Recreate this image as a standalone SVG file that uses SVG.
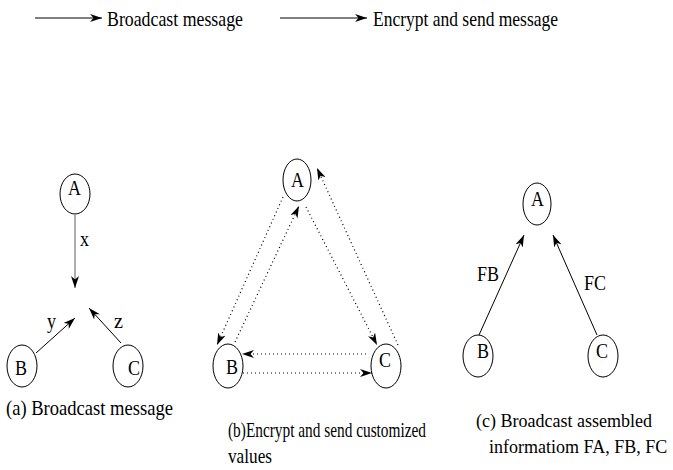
<svg xmlns="http://www.w3.org/2000/svg" width="673" height="470" viewBox="0 0 673 470">
<style>
text{font-family:"Liberation Serif","Times New Roman",serif;font-size:21px;fill:#000}
.s{font-size:18px}
.n{fill:none;stroke:#000;stroke-width:1}
.e{fill:none;stroke:#000;stroke-width:1}
.d{fill:none;stroke:#000;stroke-width:1.2;stroke-dasharray:1 3}
.g{fill:none;stroke:#777;stroke-width:1.2}
</style>
<defs>
<marker id="ah" viewBox="0 0 12 8" refX="12" refY="4" markerWidth="12" markerHeight="8" markerUnits="userSpaceOnUse" orient="auto">
<path d="M0,0 L12,4 L0,8 L3.5,4 z" fill="#000"/>
</marker>
</defs>
<rect width="673" height="470" fill="#fff"/>
<g id="legend">
<line class="e" x1="35" y1="18" x2="102" y2="18" marker-end="url(#ah)"/>
<text x="107" y="26" textLength="136" lengthAdjust="spacingAndGlyphs">Broadcast message</text>
<line class="e" x1="280" y1="18" x2="367" y2="18" marker-end="url(#ah)"/>
<text x="373" y="26" textLength="185" lengthAdjust="spacingAndGlyphs">Encrypt and send message</text>
</g>
<g id="connectors">
<line class="g" x1="75" y1="215" x2="75" y2="288" marker-end="url(#ah)"/>
<line class="e" x1="36" y1="353" x2="75" y2="318" marker-end="url(#ah)"/>
<line class="e" x1="121" y1="343" x2="89" y2="308" marker-end="url(#ah)"/>
<line class="d" x1="283" y1="197" x2="217" y2="345" marker-end="url(#ah)"/>
<line class="d" x1="235" y1="342" x2="299" y2="206" marker-end="url(#ah)"/>
<line class="d" x1="306" y1="207" x2="377" y2="345" marker-end="url(#ah)"/>
<line class="d" x1="398" y1="345" x2="317" y2="168" marker-end="url(#ah)"/>
<line class="d" x1="366" y1="354" x2="242" y2="354" marker-end="url(#ah)"/>
<line class="d" x1="243" y1="373" x2="372" y2="373" marker-end="url(#ah)"/>
<line class="e" x1="479" y1="335" x2="524" y2="235" marker-end="url(#ah)"/>
<line class="e" x1="597" y1="335" x2="553" y2="235" marker-end="url(#ah)"/>
<text x="80" y="246" textLength="9" lengthAdjust="spacingAndGlyphs">x</text>
<text x="47" y="328" textLength="9" lengthAdjust="spacingAndGlyphs">y</text>
<text x="114" y="328" textLength="9" lengthAdjust="spacingAndGlyphs">z</text>
<text x="477" y="281" textLength="22" lengthAdjust="spacingAndGlyphs">FB</text>
<text x="584" y="290" textLength="22" lengthAdjust="spacingAndGlyphs">FC</text>
</g>
<g id="a_A"><ellipse class="n" cx="75" cy="194" rx="15" ry="20"/><text x="68" y="195" textLength="13" lengthAdjust="spacingAndGlyphs">A</text></g>
<g id="a_B"><ellipse class="n" cx="22" cy="366" rx="15" ry="21"/><text x="15" y="375" textLength="12" lengthAdjust="spacingAndGlyphs">B</text></g>
<g id="a_C"><ellipse class="n" cx="128" cy="366" rx="15" ry="21"/><text x="128" y="375" textLength="12" lengthAdjust="spacingAndGlyphs">C</text></g>
<g id="b_A"><ellipse class="n" cx="297" cy="180" rx="14" ry="21"/><text x="291" y="187" textLength="13" lengthAdjust="spacingAndGlyphs">A</text></g>
<g id="b_B"><ellipse class="n" cx="228" cy="366" rx="15" ry="22"/><text x="226" y="374" textLength="12" lengthAdjust="spacingAndGlyphs">B</text></g>
<g id="b_C"><ellipse class="n" cx="386" cy="366" rx="15" ry="22"/><text x="379" y="367" textLength="12" lengthAdjust="spacingAndGlyphs">C</text></g>
<g id="c_A"><ellipse class="n" cx="537" cy="204" rx="14" ry="21"/><text x="531" y="206" textLength="13" lengthAdjust="spacingAndGlyphs">A</text></g>
<g id="c_B"><ellipse class="n" cx="478" cy="356" rx="15" ry="21"/><text x="477" y="358" textLength="12" lengthAdjust="spacingAndGlyphs">B</text></g>
<g id="c_C"><ellipse class="n" cx="603" cy="356" rx="15" ry="21"/><text x="596" y="358" textLength="12" lengthAdjust="spacingAndGlyphs">C</text></g>
<g id="captions">
<text x="6" y="415" textLength="167" lengthAdjust="spacingAndGlyphs">(a) Broadcast message</text>
<text x="228" y="437" textLength="198" lengthAdjust="spacingAndGlyphs">(b)Encrypt and send customized</text>
<text x="228" y="463" textLength="44" lengthAdjust="spacingAndGlyphs">values</text>
<text class="s" x="476" y="427">(c) Broadcast assembled</text>
<text class="s" x="489" y="453">informatiom FA, FB, FC</text>
</g>
</svg>
